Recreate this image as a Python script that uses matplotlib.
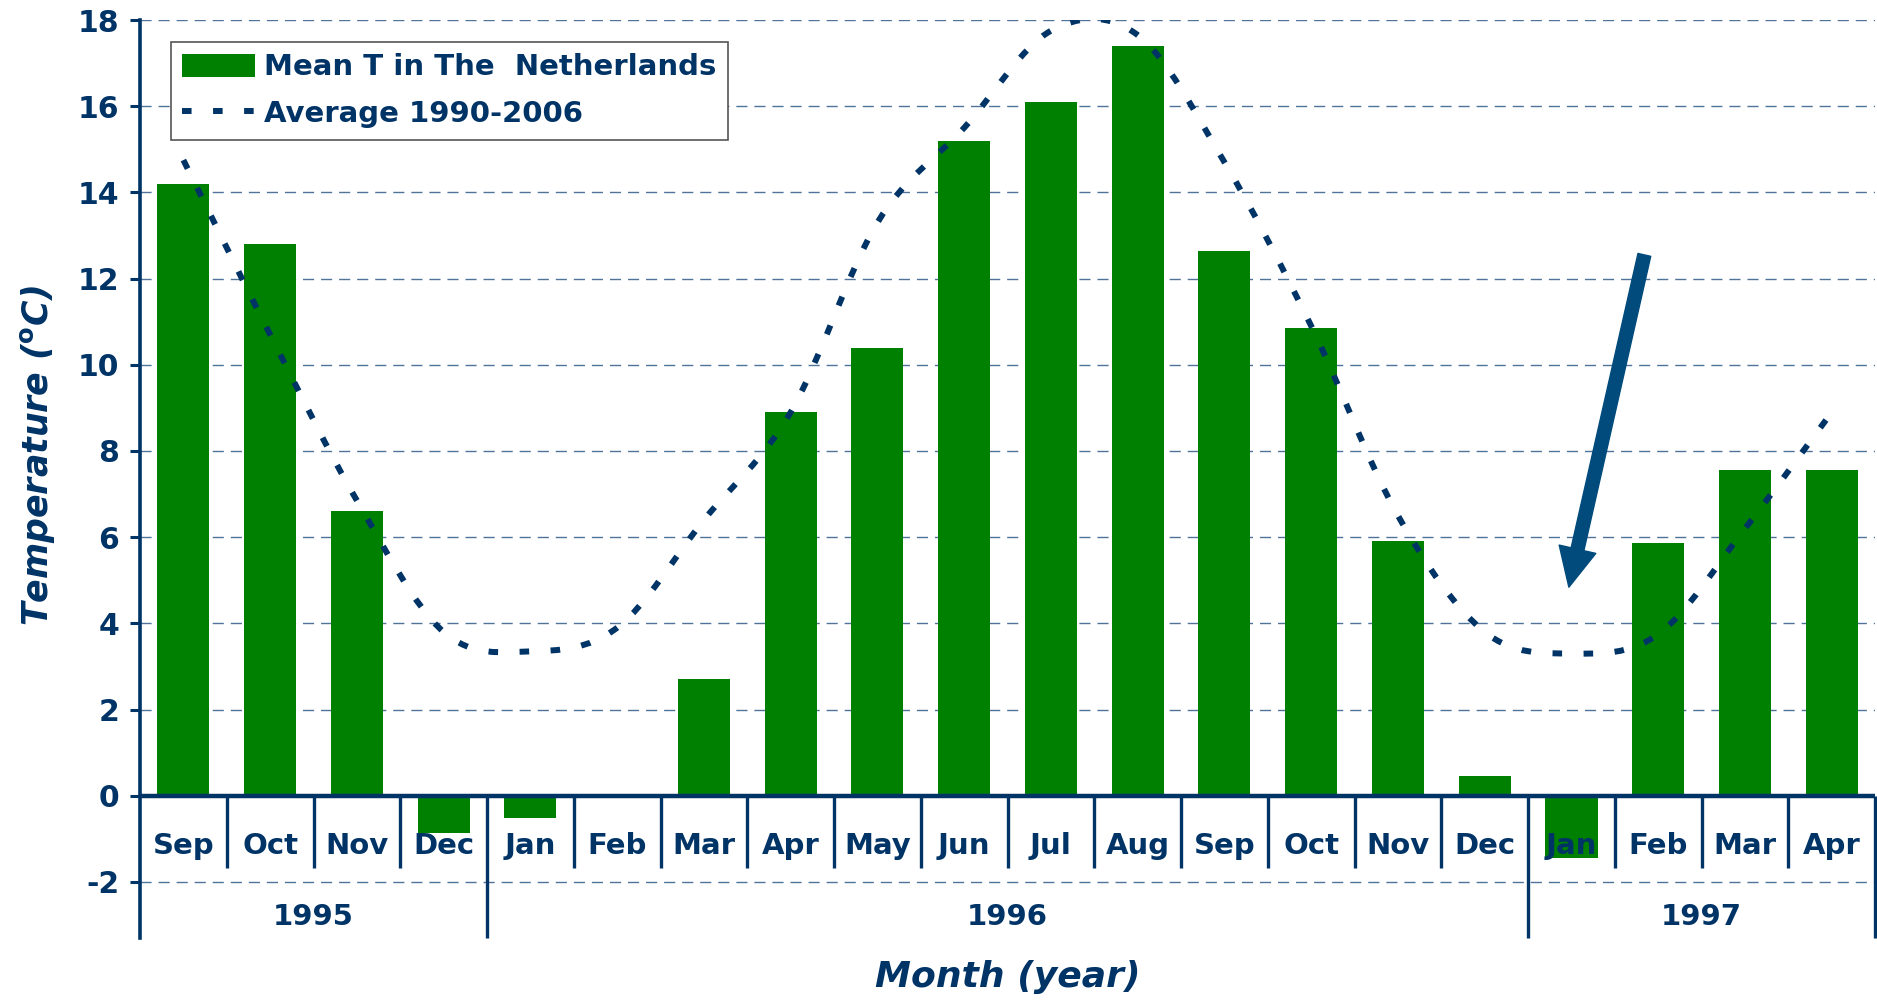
import numpy as np
import matplotlib
matplotlib.use('Agg')
import matplotlib.pyplot as plt
from matplotlib.path import Path
from matplotlib.patches import PathPatch, FancyArrowPatch, Patch
from matplotlib.lines import Line2D

# data
months = ['Sep', 'Oct', 'Nov', 'Dec', 'Jan', 'Feb', 'Mar', 'Apr', 'May', 'Jun',
          'Jul', 'Aug', 'Sep', 'Oct', 'Nov', 'Dec', 'Jan', 'Feb', 'Mar', 'Apr']
mean_t = [14.2, 12.8, 6.6, -0.86, -0.52, 0.0, 2.7, 8.9, 10.4, 15.2,
          16.1, 17.4, 12.65, 10.85, 5.9, 0.47, -1.45, 5.87, 7.55, 7.55]
avg_t = [14.75, 10.7, 6.85, 3.8, 3.35, 3.9, 6.4, 8.9, 13.3, 15.5,
         17.75, 17.65, 14.7, 10.9, 6.5, 3.8, 3.3, 3.75, 6.2, 8.9]
years = ['1995', '1996', '1997']
year_first = [0, 4, 16]   # index of first month of each year
year_last = [3, 15, 19]

navy = '#003366'
green = '#008000'
grid_col = '#4f7399'
arrow_col = '#004b7c'

plt.rcParams['font.family'] = ['DejaVu Sans']
plt.rcParams['font.weight'] = 'bold'
plt.rcParams['axes.unicode_minus'] = False

fig = plt.figure(figsize=(18.77, 10), dpi=100)
ax = fig.add_axes([0.0746, 0.062, 0.9244, 0.918])

x = np.arange(len(months))
ymin, ymax = -3.3, 18

# bars
ax.bar(x, mean_t, width=0.6, color=green, zorder=2)

# smoothed average line (Excel style bezier through the points)
def smooth_path(xs, ys):
    verts = [(xs[0], ys[0])]
    codes = [Path.MOVETO]
    n = len(xs)
    for i in range(n - 1):
        a = max(i - 1, 0)
        b = min(i + 2, n - 1)
        c1 = (xs[i] + (xs[i + 1] - xs[a]) / 6, ys[i] + (ys[i + 1] - ys[a]) / 6)
        c2 = (xs[i + 1] - (xs[b] - xs[i]) / 6, ys[i + 1] - (ys[b] - ys[i]) / 6)
        verts += [c1, c2, (xs[i + 1], ys[i + 1])]
        codes += [Path.CURVE4] * 3
    return Path(verts, codes)

dot_style = (0, (1.6, 3.6))
ax.add_patch(PathPatch(smooth_path(list(x), avg_t), fill=False, edgecolor=navy,
                       lw=4.3, linestyle=dot_style, capstyle='butt', zorder=3))

# grid and axes
ax.set_xlim(-0.5, len(months) - 0.5)
ax.set_ylim(ymin, ymax)
ax.set_yticks(np.arange(-2, 19, 2))
ax.yaxis.grid(True, color=grid_col, lw=1.0, linestyle=(0, (8, 5)), zorder=0)
ax.set_axisbelow(True)
for s in ['top', 'right', 'bottom']:
    ax.spines[s].set_visible(False)
ax.spines['left'].set_color(navy)
ax.spines['left'].set_linewidth(2.6)
ax.tick_params(axis='y', colors=navy, labelsize=21.5, length=7, width=2.2,
               direction='out', pad=8)
ax.set_xticks([])
ax.axhline(0, color=navy, lw=3.2, zorder=4)

# category axis: month labels, separators, year labels
for i, m in enumerate(months):
    ax.text(i, -1.17, m, ha='center', va='center', fontsize=21, color=navy,
            fontweight='bold', zorder=5)
for i in range(len(months)):
    b = i + 0.5
    if i in year_last:
        ax.vlines(b, ymin, 0, color=navy, lw=2.4, zorder=4, clip_on=False)
    else:
        ax.vlines(b, -1.68, 0, color=navy, lw=2.4, zorder=4)
for yr, a, b in zip(years, year_first, year_last):
    ax.text((a + b) / 2, -2.81, yr, ha='center', va='center', fontsize=21,
            color=navy, fontweight='bold')

ax.set_ylabel(r'Temperature ($^{\mathbf{o}}$C)', fontsize=25, color=navy,
              fontweight='bold', fontstyle='italic')
ax.yaxis.set_label_coords(-0.048, 0.526)
ax.set_xlabel('Month (year)', fontsize=26, color=navy, fontweight='bold',
              fontstyle='italic', labelpad=16)

# arrow pointing at Jan 1997
arr = FancyArrowPatch((16.84, 12.55), (15.97, 4.84),
                      arrowstyle='simple,head_length=1.4,head_width=1.35,tail_width=0.47',
                      mutation_scale=20, color=arrow_col, shrinkA=0, shrinkB=0, zorder=6)
ax.add_patch(arr)

# legend
handles = [Patch(facecolor=green, edgecolor='none'),
           Line2D([], [], color=navy, lw=4.3, linestyle=dot_style,
                  dash_capstyle='butt')]
leg = ax.legend(handles, ['Mean T in The  Netherlands', 'Average 1990-2006'],
                loc='upper left', bbox_to_anchor=(0.0911, 0.958),
                bbox_transform=fig.transFigure, borderaxespad=0, fancybox=False,
                framealpha=1, edgecolor='#555555', fontsize=21, handlelength=2.5,
                handleheight=0.85, handletextpad=0.3, labelspacing=0.65,
                borderpad=0.39)
leg.get_frame().set_linewidth(1.2)
for t in leg.get_texts():
    t.set_color(navy)

plt.savefig('out.png', dpi=100)
